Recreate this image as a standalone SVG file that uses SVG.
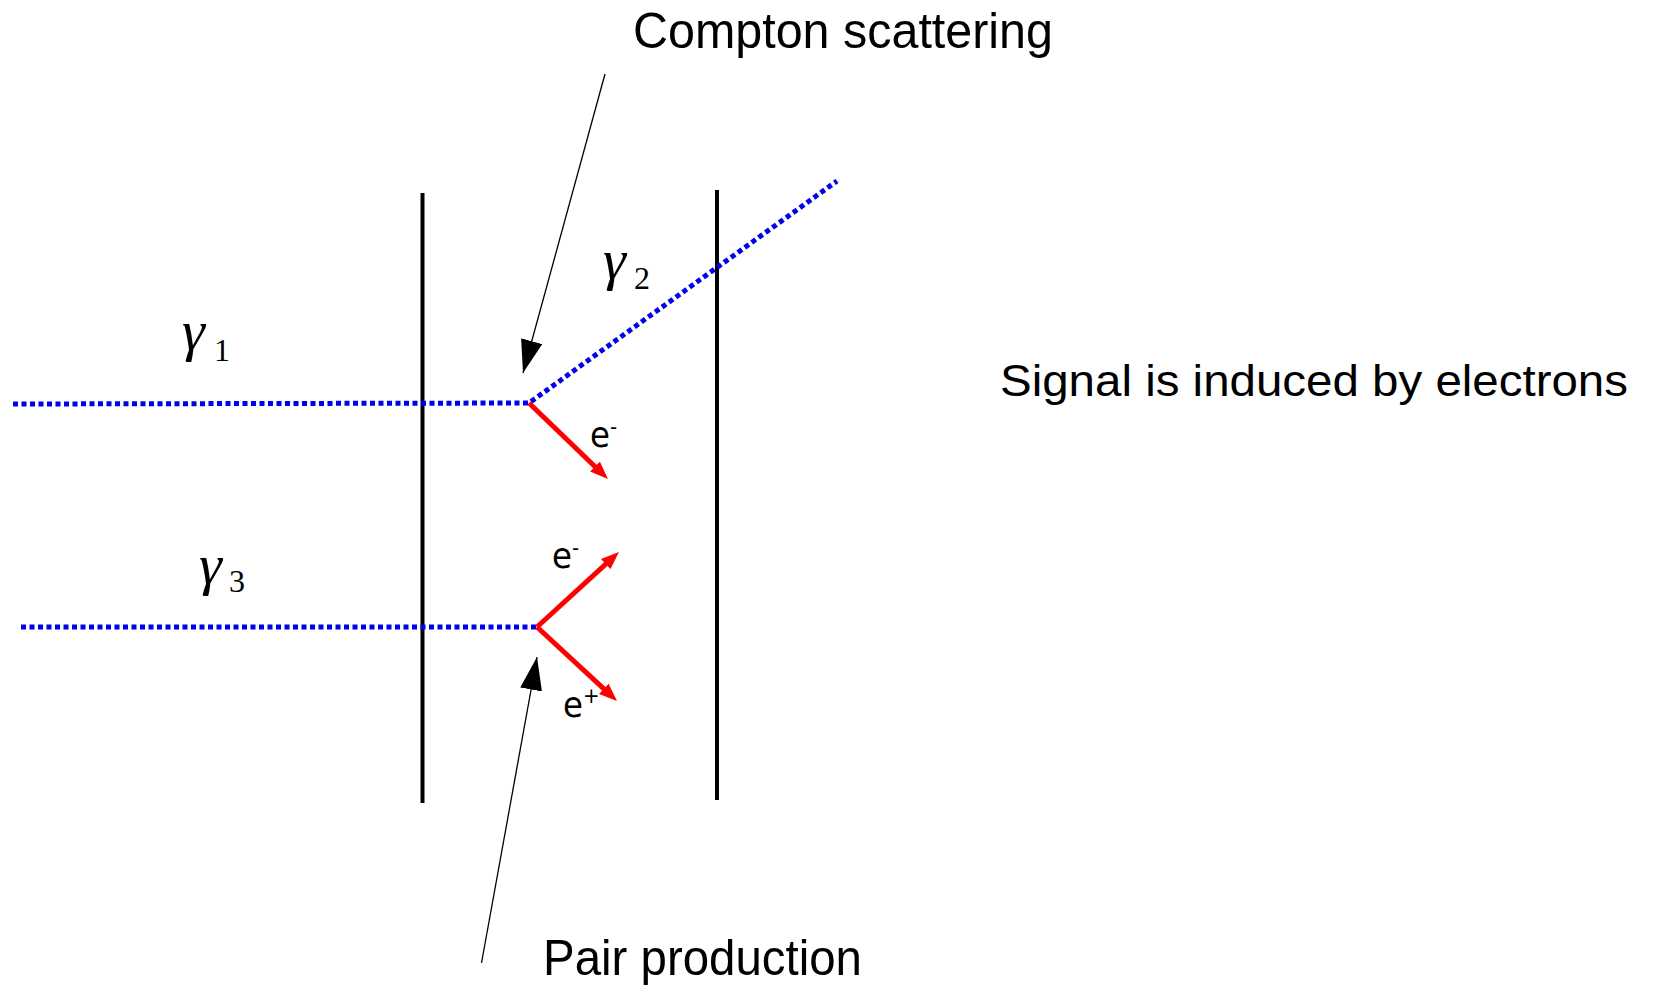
<svg xmlns="http://www.w3.org/2000/svg" width="1656" height="987" viewBox="0 0 1656 987">
<style>
.wall{stroke:#000;stroke-width:4;fill:none}
.photon{stroke:#0000ee;stroke-width:5;stroke-dasharray:5 3.5;fill:none}
.elec{stroke:#ff0000;stroke-width:5;fill:none;marker-end:url(#redhead)}
.pointer{stroke:#000;stroke-width:1.3;fill:none;marker-end:url(#blackhead)}
.hand{font-family:"Liberation Sans","DejaVu Sans",sans-serif;font-size:50px;fill:#000}
.gam{font-family:"Liberation Serif","DejaVu Serif",serif;font-style:italic;font-size:58px;fill:#000}
.sub{font-family:"Liberation Serif","DejaVu Serif",serif;font-style:normal;font-size:32px;fill:#000}
.el{font-family:"DejaVu Sans Condensed","Liberation Sans Narrow","Liberation Sans",sans-serif;font-size:36px;fill:#000}
.sup{font-size:22px}
</style>
<defs>
<marker id="redhead" markerUnits="userSpaceOnUse" markerWidth="20" markerHeight="16" refX="6" refY="7" orient="auto">
<path d="M0,0 L18,7 L0,14 z" fill="#ff0000"/>
</marker>
<marker id="blackhead" markerUnits="userSpaceOnUse" markerWidth="34" markerHeight="24" refX="33" refY="11" orient="auto">
<path d="M0,0 L33,11 L0,22 z" fill="#000"/>
</marker>
</defs>
<rect width="1656" height="987" fill="#fff"/>
<g id="walls">
<line class="wall" x1="422.5" y1="193" x2="422.5" y2="803"/>
<line class="wall" x1="717" y1="190" x2="717" y2="800"/>
</g>
<g id="connectors">
<polyline class="photon" points="13,404 529,403 837,181"/>
<line class="photon" x1="21" y1="627" x2="537" y2="627"/>
<line class="elec" x1="529" y1="403" x2="599.3" y2="470.7"/>
<line class="elec" x1="537" y1="627" x2="610.1" y2="560.1"/>
<line class="elec" x1="537" y1="627" x2="608.2" y2="692.9"/>
<line class="pointer" x1="605" y1="74" x2="523" y2="373"/>
<line class="pointer" x1="481.5" y1="963" x2="537" y2="657"/>
</g>
<g id="compton"><text class="hand" x="633" y="48" textLength="420" lengthAdjust="spacingAndGlyphs">Compton scattering</text></g>
<g id="signal"><text class="hand" x="1000" y="396" font-size="45" style="font-size:45px" textLength="628" lengthAdjust="spacingAndGlyphs">Signal is induced by electrons</text></g>
<g id="pair"><text class="hand" x="543" y="975" textLength="319" lengthAdjust="spacingAndGlyphs">Pair production</text></g>
<g id="gamma1"><text class="gam" x="182" y="350">γ<tspan class="sub" x="214" y="361">1</tspan></text></g>
<g id="gamma2"><text class="gam" x="603" y="279">γ<tspan class="sub" x="634" y="289">2</tspan></text></g>
<g id="gamma3"><text class="gam" x="199" y="584">γ<tspan class="sub" x="229" y="592">3</tspan></text></g>
<g id="e1"><text class="el" x="590" y="447">e<tspan class="sup" dy="-13">-</tspan></text></g>
<g id="e2"><text class="el" x="552" y="568">e<tspan class="sup" dy="-13">-</tspan></text></g>
<g id="e3"><text class="el" x="563" y="717">e<tspan class="sup" dy="-14">+</tspan></text></g>
</svg>
